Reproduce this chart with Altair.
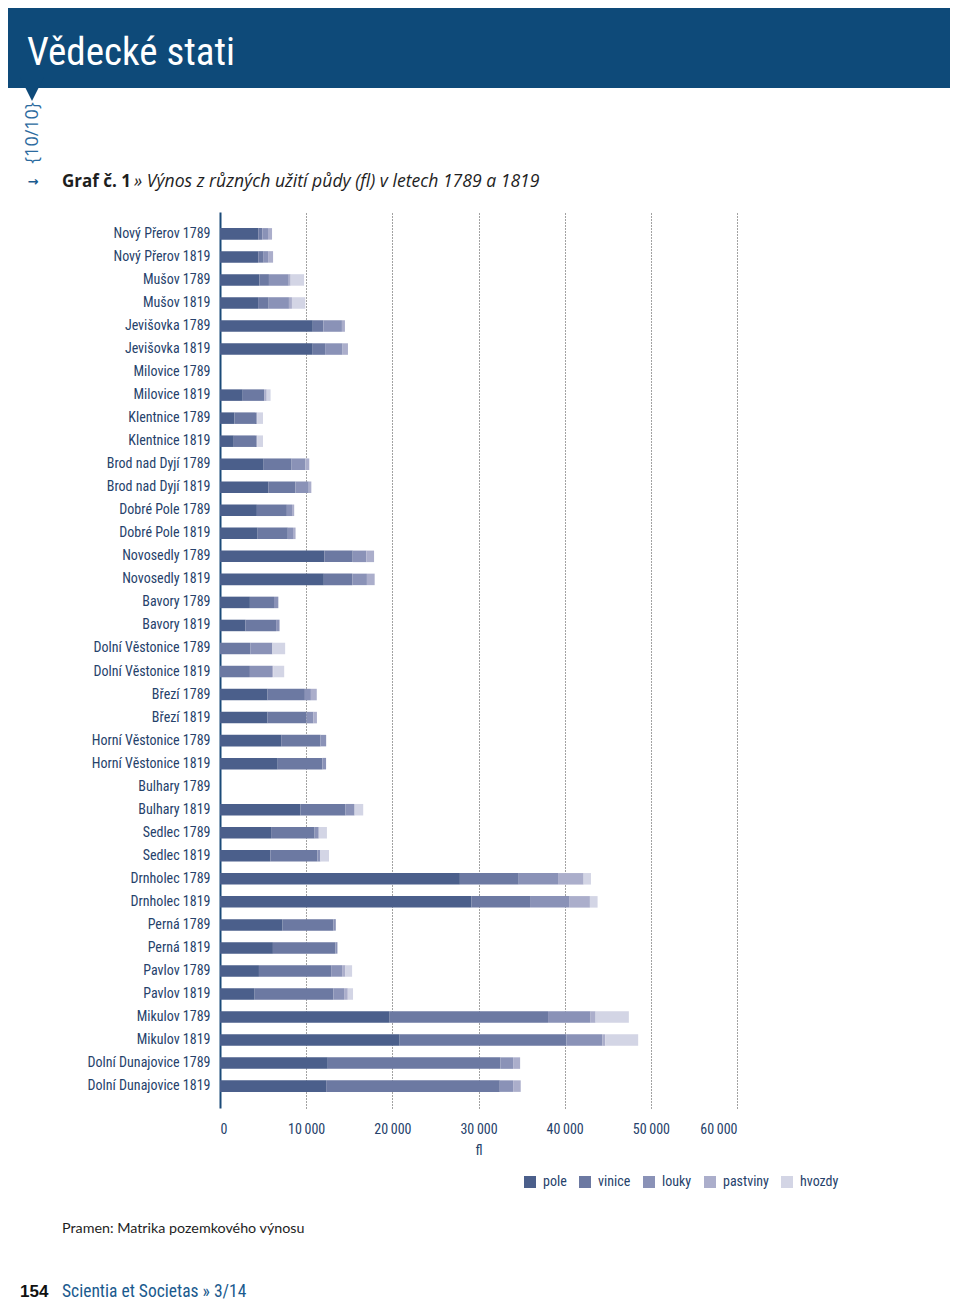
import altair as alt
import pandas as pd

villages = ["Nový Přerov", "Mušov", "Jevišovka", "Milovice", "Klentnice", "Brod nad Dyjí",
            "Dobré Pole", "Novosedly", "Bavory", "Dolní Věstonice", "Březí", "Horní Věstonice",
            "Bulhary", "Sedlec", "Drnholec", "Perná", "Pavlov", "Mikulov", "Dolní Dunajovice"]
years = ["1789", "1819"]
categories = ["pole", "vinice", "louky", "pastviny", "hvozdy"]

pole = [4440, 4440, 4580, 4420, 10770, 10760, 0, 2640, 1680, 1600, 5070, 5600, 4280, 4370,
        12120, 12050, 3470, 2960, 0, 0, 5520, 5520, 7100, 6700, 0, 9320, 5930, 5850,
        27840, 29190, 7260, 6140, 4520, 4020, 19690, 20850, 12510, 12320]
vinice = [470, 630, 1100, 1230, 1230, 1440, 0, 2480, 2530, 2610, 3240, 3150, 3480, 3500,
          3280, 3300, 2800, 3550, 3510, 3470, 4330, 4520, 4560, 5180, 0, 5250, 5050, 5450,
          6830, 6790, 5910, 7260, 8380, 9150, 18380, 19340, 20040, 20150]
louky = [660, 510, 2300, 2350, 2150, 2030, 0, 0, 100, 100, 1600, 1550, 600, 600,
         1580, 1700, 500, 400, 2570, 2570, 700, 780, 660, 430, 0, 1050, 480, 350,
         4560, 4600, 270, 230, 1270, 1230, 4940, 4170, 1470, 1550]
pastviny = [470, 580, 220, 350, 350, 620, 0, 300, 0, 0, 450, 300, 250, 300,
            900, 900, 0, 0, 0, 150, 680, 430, 0, 0, 0, 0, 0, 0,
            2970, 2350, 0, 0, 390, 430, 580, 350, 810, 880]
hvozdy = [0, 0, 1560, 1550, 0, 0, 0, 450, 680, 680, 0, 0, 0, 0,
          0, 0, 0, 0, 1480, 1260, 0, 0, 0, 0, 0, 1000, 950, 1000,
          850, 890, 0, 0, 770, 610, 3860, 3820, 0, 0]

x_ticks = [0, 10000, 20000, 30000, 40000, 50000, 60000]

labels = [f"{v} {y}" for v in villages for y in years]
series = [pole, vinice, louky, pastviny, hvozdy]
rows = []
for i, lab in enumerate(labels):
    for k, cat in enumerate(categories):
        if series[k][i] > 0:
            rows.append({"row": lab, "cat": cat, "ord": k, "value": series[k][i]})
df = pd.DataFrame(rows)

colors = ["#4b5f8b", "#6c79a2", "#8a92b7", "#abaecb", "#d3d5e5"]
NARROW = "Roboto Condensed, DejaVu Sans Condensed, sans-serif"
SANS = "Open Sans, sans-serif"
LABEL_COL = "#26426b"
HEADER = "#0e4a79"

bars = alt.Chart(df).mark_bar().encode(
    x=alt.X("value:Q", stack="zero",
            scale=alt.Scale(domain=[0, 60000], nice=False),
            axis=alt.Axis(title="fl", values=x_ticks,
                          labelExpr="replace(format(datum.value, ','), ',', '\u2009')",
                          grid=True, gridDash=[1, 2], gridColor="#444", gridWidth=1,
                          gridOpacity={"condition": {"test": "datum.value === 0", "value": 0}, "value": 1},
                          domain=False, ticks=False, labelPadding=14, titlePadding=7,
                          labelFont=NARROW, labelFontSize=14, labelColor=LABEL_COL,
                          titleFont=NARROW, titleFontSize=14, titleColor=LABEL_COL,
                          titleFontWeight="normal")),
    y=alt.Y("row:N", sort=labels,
            scale=alt.Scale(domain=labels, paddingInner=0.5, paddingOuter=0.7),
            axis=alt.Axis(title=None, ticks=False, domainColor="#1b4a78", domainWidth=2,
                          labelPadding=10, labelFont=NARROW, labelFontSize=14,
                          labelColor=LABEL_COL, grid=False)),
    color=alt.Color("cat:N", scale=alt.Scale(domain=categories, range=colors),
                    legend=alt.Legend(orient="none", legendX=303, legendY=963,
                                      direction="horizontal", title=None,
                                      symbolType="square", symbolSize=144,
                                      symbolStrokeWidth=0, symbolOpacity=1,
                                      labelFont=NARROW, labelFontSize=14,
                                      labelColor=LABEL_COL, columnPadding=11,
                                      labelOffset=6, padding=0)),
    order=alt.Order("ord:Q"),
)

OX, OY = 220, 212  # plot origin on page


def one(s):
    return alt.Chart(pd.DataFrame({"t": [s]}))


def txt(s, px, py, **kw):
    base = dict(align="left", baseline="alphabetic")
    base.update(kw)
    return one(s).mark_text(**base).encode(
        text="t:N", x=alt.value(px - OX), y=alt.value(py - OY))


header = one("h").mark_rect(color=HEADER).encode(
    x=alt.value(8 - OX), x2=alt.value(950 - OX),
    y=alt.value(8 - OY), y2=alt.value(88 - OY))
pointer = one("p").mark_point(shape="M-1,-1L1,-1L0,1Z", filled=True, size=576,
                              color=HEADER, opacity=1, strokeWidth=0).encode(
    x=alt.value(32 - OX), y=alt.value(89 - OY))

title = txt("Vědecké stati", 27, 65, font="Roboto Condensed, Roboto", fontSize=39,
            color="white")
pagetag = txt("{10/10}", 33, 133, font=SANS, fontSize=18,
              color="#2b6a9e", angle=270, align="center", baseline="middle")
arrow = txt("→", 33, 182, font="DejaVu Sans", fontSize=13, fontWeight="bold",
            color="#1a5a8e", align="center", baseline="middle")
graf = txt("Graf č. 1", 62, 187, font=SANS, fontSize=17, fontWeight="bold", color="#1e1e1e")
graf2 = txt("» Výnos z různých užití půdy (fl) v letech 1789 a 1819", 134, 187,
            font=SANS, fontSize=17.6, fontStyle="italic", color="#1e1e1e")
source = txt("Pramen: Matrika pozemkového výnosu", 62, 1233, font="Lato, sans-serif",
             fontSize=14.3, color="#1e1e1e")
pagenum = txt("154", 20, 1297, font="Liberation Sans, Arial, sans-serif", fontSize=17,
              fontWeight="bold", color="#111111")
journal = txt("Scientia et Societas » 3/14", 62, 1297, font=NARROW, fontSize=17.5,
              color="#1a5a8e")

chart = alt.layer(header, pointer, title, pagetag, arrow, graf, graf2, bars, source,
                  pagenum, journal).properties(
    width=517, height=896,
    padding={"left": 212, "top": 204, "right": 213, "bottom": 194},
    autosize=alt.AutoSizeParams(type="none"),
).configure(background="white").configure_view(stroke=None)

chart.save("out.html", embed_options={"renderer": "svg", "actions": False})
